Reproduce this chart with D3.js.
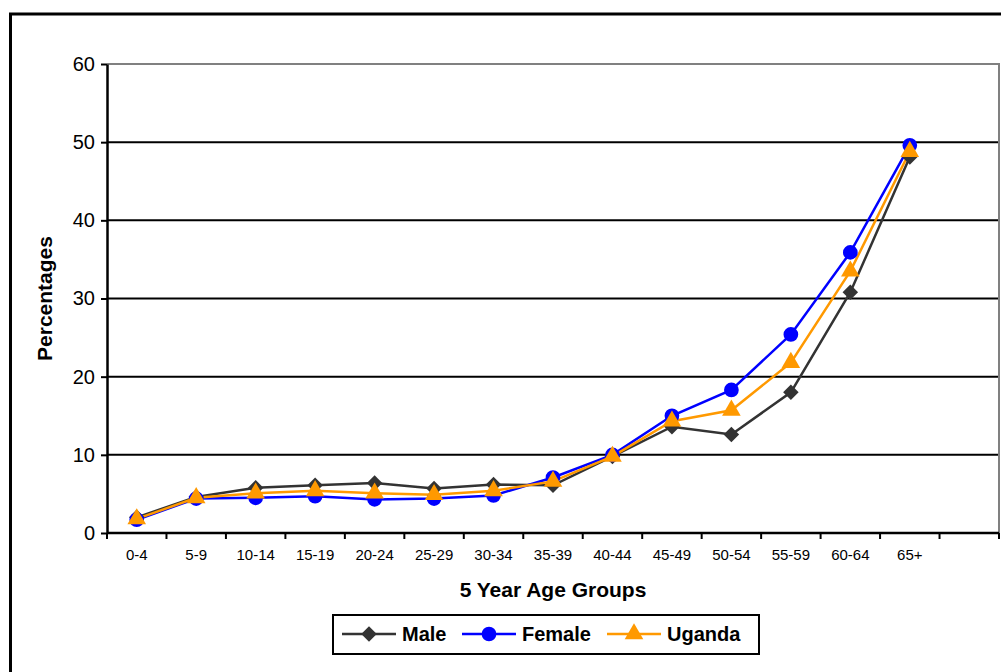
<!DOCTYPE html>
<html>
<head>
<meta charset="utf-8">
<script src="https://cdn.jsdelivr.net/npm/d3@7"></script>
<style>
  body { margin: 0; background: #fff; }
  svg { display: block; font-family: "Liberation Sans", Arial, sans-serif; }
</style>
</head>
<body>
<svg id="chart" width="1001" height="672"></svg>
<script>
// Age groups (last slot is empty, as in the original)
var ageGroups = ['0-4', '5-9', '10-14', '15-19', '20-24', '25-29', '30-34',
  '35-39', '40-44', '45-49', '50-54', '55-59', '60-64', '65+', '']

var maleValues = [2.0, 4.6, 5.8, 6.1, 6.4, 5.7, 6.2, 6.1, 9.8, 13.6, 12.6, 18.0, 30.8, 48.1]
var femaleValues = [1.7, 4.4, 4.5, 4.7, 4.3, 4.4, 4.8, 7.1, 10.0, 15.0, 18.3, 25.4, 35.9, 49.6]
var ugandaValues = [1.8, 4.5, 5.1, 5.4, 5.1, 4.9, 5.4, 6.6, 9.8, 14.3, 15.7, 21.8, 33.5, 48.8]

var yTicks = [0, 10, 20, 30, 40, 50, 60]

// Diamond = square turned 45 degrees
var series = [
  {name: 'Male', values: maleValues, colour: '#333333', symbol: d3.symbolSquare, size: 120, rot: 45},
  {name: 'Female', values: femaleValues, colour: '#0000ff', symbol: d3.symbolCircle, size: 170, rot: 0},
  {name: 'Uganda', values: ugandaValues, colour: '#ff9900', symbol: d3.symbolTriangle, size: 150, rot: 0}
]

var svg = d3.select('#chart')

// Outer chart frame (right and bottom edges fall outside the picture)
svg.append('rect')
  .attr('x', 10.5).attr('y', 14)
  .attr('width', 1010).attr('height', 700)
  .attr('fill', 'none')
  .attr('stroke', '#000')
  .attr('stroke-width', 3)

// Plot area
var pLeft = 107, pRight = 999, pTop = 64, pBottom = 533

var x = d3.scaleBand()
  .domain(ageGroups)
  .range([pLeft, pRight])

var y = d3.scaleLinear()
  .domain([0, 60])
  .range([pBottom, pTop])

// Horizontal gridlines
svg.append('g')
  .selectAll('line')
  .data(yTicks.filter(d => d > 0 && d < 60))
  .join('line')
  .attr('x1', pLeft).attr('x2', pRight)
  .attr('y1', d => y(d)).attr('y2', d => y(d))
  .attr('stroke', '#000')
  .attr('stroke-width', 2)

// Plot border (top and right, grey)
svg.append('path')
  .attr('d', 'M' + pLeft + ',' + y(60) + 'H' + pRight + 'V' + pBottom)
  .attr('fill', 'none')
  .attr('stroke', '#808080')
  .attr('stroke-width', 2)

// y-axis
var yAxis = d3.axisLeft(y)
  .tickValues(yTicks)
  .tickSizeInner(6)
  .tickSizeOuter(0)
  .tickPadding(6)

svg.append('g')
  .attr('transform', 'translate(' + pLeft + ',0)')
  .call(yAxis)
  .call(g => g.select('.domain').attr('stroke-width', 2.5))
  .call(g => g.selectAll('.tick line').attr('stroke-width', 2))
  .call(g => g.selectAll('.tick text').attr('font-size', 20).attr('fill', '#000')
    .attr('font-family', '"Liberation Sans", Arial, sans-serif'))

// x-axis: ticks at band boundaries, labels at band centres
var xAxisG = svg.append('g')
  .attr('transform', 'translate(0,' + pBottom + ')')

xAxisG.append('line')
  .attr('x1', pLeft).attr('x2', pRight)
  .attr('stroke', '#000')
  .attr('stroke-width', 2.5)

var boundaries = ageGroups.map(d => x(d)).concat([pRight])

xAxisG.selectAll('.bnd')
  .data(boundaries)
  .join('line')
  .attr('class', 'bnd')
  .attr('x1', d => d).attr('x2', d => d)
  .attr('y1', 0).attr('y2', 6)
  .attr('stroke', '#000')
  .attr('stroke-width', 2)

xAxisG.selectAll('text')
  .data(ageGroups)
  .join('text')
  .attr('x', d => x(d) + x.bandwidth() / 2)
  .attr('y', 27)
  .attr('text-anchor', 'middle')
  .attr('font-size', 15)
  .text(d => d)

// Axis titles
svg.append('text')
  .attr('x', (pLeft + pRight) / 2)
  .attr('y', 597)
  .attr('text-anchor', 'middle')
  .attr('font-size', 21)
  .attr('font-weight', 'bold')
  .text('5 Year Age Groups')

svg.append('text')
  .attr('transform', 'translate(52,' + (pTop + pBottom) / 2 + ') rotate(-90)')
  .attr('text-anchor', 'middle')
  .attr('font-size', 21)
  .attr('font-weight', 'bold')
  .text('Percentages')

// Lines and markers
var line = d3.line()
  .x((d, i) => x(ageGroups[i]) + x.bandwidth() / 2)
  .y(d => y(d))

var graphs = svg.append('g')

for (var s of series) {
  graphs.append('path')
    .attr('d', line(s.values))
    .attr('fill', 'none')
    .attr('stroke', s.colour)
    .attr('stroke-width', 2.5)
}

for (var s of series) {
  graphs.append('g')
    .selectAll('path')
    .data(s.values)
    .join('path')
    .attr('transform', (d, i) => 'translate(' + (x(ageGroups[i]) + x.bandwidth() / 2) + ',' + y(d) + ') rotate(' + s.rot + ')')
    .attr('d', d3.symbol().type(s.symbol).size(s.size))
    .attr('fill', s.colour)
}

// Legend
var legend = svg.append('g')

legend.append('rect')
  .attr('x', 333).attr('y', 615)
  .attr('width', 426).attr('height', 39)
  .attr('fill', '#fff')
  .attr('stroke', '#000')
  .attr('stroke-width', 2)

var legendX = [342, 462, 607]

series.forEach(function(s, i) {
  var lx = legendX[i], ly = 634
  legend.append('line')
    .attr('x1', lx).attr('x2', lx + 54)
    .attr('y1', ly).attr('y2', ly)
    .attr('stroke', s.colour)
    .attr('stroke-width', 2.5)
  legend.append('path')
    .attr('transform', 'translate(' + (lx + 27) + ',' + ly + ') rotate(' + s.rot + ')')
    .attr('d', d3.symbol().type(s.symbol).size(s.size)())
    .attr('fill', s.colour)
  legend.append('text')
    .attr('x', lx + 60)
    .attr('y', ly + 7)
    .attr('font-size', 20)
    .attr('font-weight', 'bold')
    .text(s.name)
})
</script>
</body>
</html>
